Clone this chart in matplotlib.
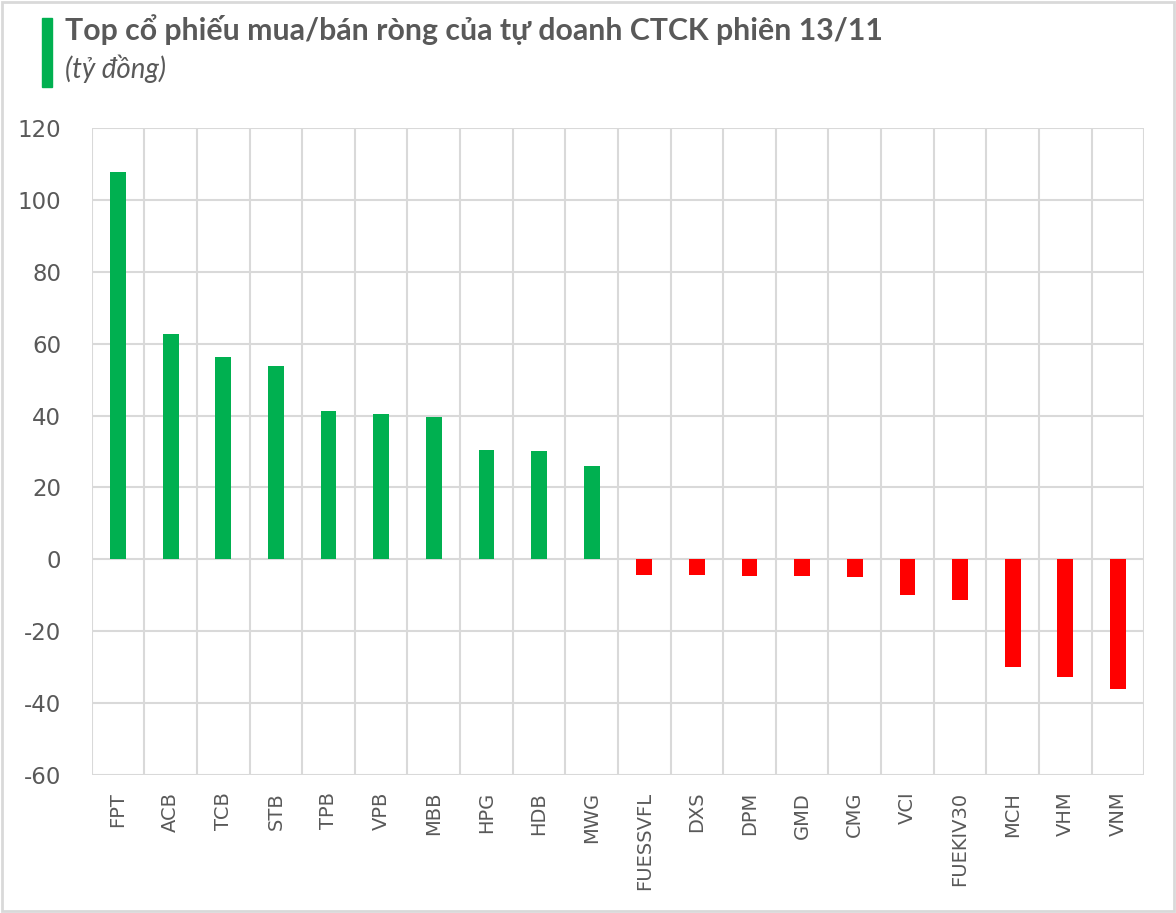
import numpy as np
import matplotlib.pyplot as plt
from matplotlib.patches import Rectangle

# data (tỷ đồng)
tickers = ['FPT', 'ACB', 'TCB', 'STB', 'TPB', 'VPB', 'MBB', 'HPG', 'HDB', 'MWG',
           'FUESSVFL', 'DXS', 'DPM', 'GMD', 'CMG', 'VCI', 'FUEKIV30', 'MCH', 'VHM', 'VNM']
net_values = [107.8, 62.8, 56.4, 53.7, 41.2, 40.3, 39.5, 30.4, 30.0, 25.9,
              -4.4, -4.4, -4.6, -4.6, -4.9, -9.9, -11.4, -30.0, -32.7, -36.1]
y_ticks = [-60, -40, -20, 0, 20, 40, 60, 80, 100, 120]

title = 'Top cổ phiếu mua/bán ròng của tự doanh CTCK phiên 13/11'
subtitle = '(tỷ đồng)'

green = '#00b050'
red = '#ff0000'
grid_col = '#d9d9d9'
text_col = '#595959'

fig = plt.figure(figsize=(11.76, 9.13), dpi=100)
ax = fig.add_axes([0.078, 0.151, 0.895, 0.709])

x = np.arange(len(tickers))
colors = [green if v >= 0 else red for v in net_values]
ax.bar(x, net_values, width=0.3, color=colors, zorder=3)

ax.set_xlim(-0.5, len(tickers) - 0.5)
ax.set_ylim(-60, 120)
ax.set_yticks(y_ticks)
ax.set_yticklabels([str(v) for v in y_ticks], fontsize=16.5, color=text_col,
                   family='DejaVu Sans')
ax.set_xticks(x)
ax.set_xticklabels(tickers, rotation=90, fontsize=14, color=text_col,
                   family='DejaVu Sans')

# horizontal gridlines + vertical category separators
ax.grid(axis='y', color=grid_col, linewidth=1.5, zorder=0)
ax.set_xticks(np.arange(len(tickers) + 1) - 0.5, minor=True)
ax.grid(axis='x', which='minor', color=grid_col, linewidth=1.5, zorder=0)
ax.tick_params(axis='both', which='both', length=0)
ax.tick_params(axis='y', pad=22)
ax.tick_params(axis='x', pad=12)
for s in ax.spines.values():
    s.set_visible(False)

# title block with green marker
fig.patches.append(Rectangle((42 / 1176, 1 - 87 / 913), 10 / 1176, 69 / 913,
                             transform=fig.transFigure, color=green))
fig.text(65 / 1176, 1 - 30 / 913, title, fontsize=21.8, fontweight='bold',
         color=text_col, family='Lato', va='center')
fig.text(65 / 1176, 1 - 69 / 913, subtitle, fontsize=20, style='italic',
         color=text_col, family='Lato', va='center')

# light outer frame
fig.patches.append(Rectangle((0.002, 0.002), 0.996, 0.996, transform=fig.transFigure,
                             fill=False, edgecolor='#d9d9d9', linewidth=2))

fig.savefig('out.png', dpi=100)
